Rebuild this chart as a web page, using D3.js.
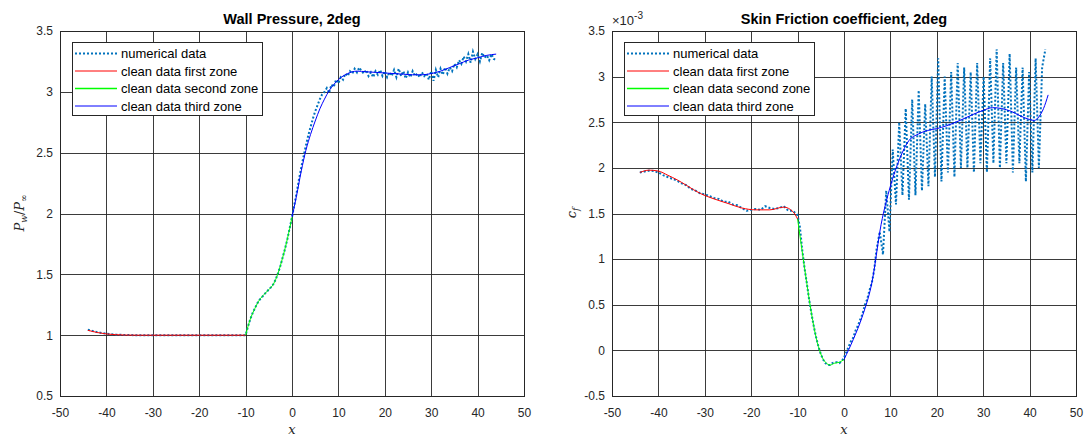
<!DOCTYPE html>
<html>
<head>
<meta charset="utf-8">
<script src="https://cdn.jsdelivr.net/npm/d3@7"></script>
<style>
  body { margin: 0; background: #fff; }
  svg { display: block; }
</style>
</head>
<body>
<div class="chart"></div>
<script>
// ---- data: wall pressure (Pw / Pinf) ----
const pressureNumX = [
  -44, -43, -42, -41, -40, -39, -38, -37, -36, -35, -34, -33, -32, -31, -30, -29, -28, -27,
  -26, -25, -24, -23, -22, -21, -20, -19, -18, -17, -16, -15, -14, -13, -12, -11, -10,
  -9.5, -9, -8.5, -8, -7.5, -7, -6.5, -6, -5.5, -5, -4.5, -4, -3.5, -3, -2.5, -2, -1.5, -1, -0.5, 0,
  0.5, 1, 1.5, 2, 2.5, 3, 3.5, 4, 4.5, 5, 5.5, 6, 6.5, 7, 7.5, 8, 8.5, 9, 9.5, 10,
  10.5, 11, 11.5, 12, 12.5, 13, 13.5, 14, 14.5, 15, 15.5, 16, 16.5, 17, 17.5, 18, 18.5, 19, 19.5, 20,
  20.5, 21, 21.5, 22, 22.5, 23, 23.5, 24, 24.5, 25, 25.5, 26, 26.5, 27, 27.5, 28, 28.5, 29, 29.5, 30,
  30.5, 31, 31.5, 32, 32.5, 33, 33.5, 34, 34.5, 35, 35.5, 36, 36.5, 37, 37.5, 38, 38.5, 39, 39.5, 40,
  40.5, 41, 41.5, 42, 42.5, 43, 43.5, 44
];
const pressureNumY = [
  1.045, 1.035, 1.025, 1.018, 1.012, 1.008, 1.005, 1.003, 1.002, 1.001, 1.0, 1.0, 0.999, 1.0, 1.0, 0.999, 1.0, 1.0,
  1.0, 0.999, 1.0, 1.0, 1.0, 0.999, 1.0, 1.0, 1.0, 1.0, 0.999, 1.0, 1.0, 1.0, 1.0, 1.0, 1.0,
  1.07, 1.13, 1.18, 1.22, 1.26, 1.29, 1.31, 1.335, 1.355, 1.375, 1.395, 1.42, 1.46, 1.51, 1.57, 1.64, 1.71, 1.79, 1.88, 1.97,
  2.07, 2.17, 2.28, 2.38, 2.47, 2.56, 2.64, 2.71, 2.78, 2.84, 2.89, 2.94, 2.98, 3.0, 3.03, 2.99, 3.06, 3.04, 3.1, 3.07,
  3.12, 3.1, 3.15, 3.13, 3.17, 3.15, 3.19, 3.16, 3.2, 3.17, 3.15, 3.18, 3.13, 3.16, 3.12, 3.17, 3.14, 3.18, 3.13, 3.17,
  3.12, 3.16, 3.13, 3.18, 3.12, 3.19, 3.13, 3.17, 3.11, 3.16, 3.12, 3.17, 3.13, 3.15, 3.12, 3.16, 3.13, 3.15, 3.1, 3.17,
  3.09, 3.18, 3.12, 3.19, 3.14, 3.2, 3.15, 3.2, 3.17, 3.23, 3.2, 3.26, 3.23, 3.29, 3.25, 3.31, 3.24, 3.33, 3.27, 3.31,
  3.25, 3.32, 3.28, 3.3, 3.26, 3.31, 3.27, 3.26
];
const pressureZone1X = [-44, -42, -40, -38, -36, -33, -30, -25, -20, -15, -10];
const pressureZone1Y = [1.04, 1.022, 1.01, 1.004, 1.001, 1.0, 1.0, 1.0, 1.0, 1.0, 1.0];
const pressureZone2X = [-10, -9, -8, -7, -6, -5, -4, -3, -2, -1, 0];
const pressureZone2Y = [1.0, 1.13, 1.22, 1.29, 1.335, 1.375, 1.42, 1.51, 1.64, 1.79, 1.97];
const pressureZone3X = [0, 1, 2, 3, 4, 5, 6, 7, 8, 9, 10, 11, 12, 13, 14, 16, 18, 20, 22, 24, 26, 28, 30, 32, 34, 36, 38, 40, 42, 44];
const pressureZone3Y = [1.97, 2.15, 2.35, 2.52, 2.65, 2.76, 2.86, 2.94, 3.01, 3.06, 3.1, 3.13, 3.15, 3.165, 3.17, 3.165, 3.16, 3.155,
  3.15, 3.145, 3.14, 3.14, 3.15, 3.17, 3.2, 3.23, 3.26, 3.28, 3.3, 3.31];

// ---- data: skin friction coefficient (values in units of 1e-3) ----
const frictionNumX = [
  -44, -43, -42, -41, -40, -39, -38, -37, -36, -35, -34, -33, -32, -31, -30, -29, -28, -27,
  -26, -25, -24, -23, -22, -21, -20, -19, -18, -17, -16, -15, -14, -13, -12, -11, -10,
  -9.5, -9, -8.5, -8, -7.5, -7, -6.5, -6, -5.5, -5, -4.5, -4, -3.5, -3, -2.5, -2, -1.5, -1, -0.5, 0,
  0.5, 1, 1.5, 2, 2.5, 3, 3.5, 4, 4.5, 5, 5.5, 6, 6.5,
  7.0, 7.7, 8.4, 9.1, 9.8, 10.5, 11.2, 11.9, 12.6, 13.3, 14.0, 14.7, 15.4, 16.1, 16.8, 17.5, 18.2, 18.9,
  19.6, 20.3, 21.0, 21.7, 22.4, 23.1, 23.8, 24.5, 25.2, 25.9, 26.6, 27.3, 28.0, 28.7, 29.4, 30.1, 30.8,
  31.5, 32.2, 32.9, 33.6, 34.3, 35.0, 35.7, 36.4, 37.1, 37.8, 38.5, 39.2, 39.9, 40.6, 41.3, 42.0, 42.7, 43.4, 44.0
];
const frictionNumY = [
  1.95, 1.96, 1.97, 1.965, 1.95, 1.92, 1.9, 1.88, 1.86, 1.83, 1.81, 1.77, 1.75, 1.72, 1.71, 1.69, 1.67, 1.66,
  1.63, 1.63, 1.6, 1.59, 1.56, 1.53, 1.54, 1.55, 1.54, 1.58, 1.56, 1.55, 1.56, 1.58, 1.53, 1.53, 1.48,
  1.35, 1.1, 0.9, 0.73, 0.55, 0.4, 0.26, 0.14, 0.04, -0.04, -0.1, -0.14, -0.16, -0.16, -0.14, -0.13, -0.13, -0.14, -0.12, -0.08,
  -0.02, 0.04, 0.1, 0.14, 0.22, 0.27, 0.34, 0.4, 0.5, 0.56, 0.66, 0.74, 0.88,
  1.1, 1.3, 1.05, 1.75, 1.3, 2.2, 1.6, 2.5, 1.7, 2.65, 1.65, 2.75, 1.7, 2.85, 1.75, 2.7, 1.8, 3.0,
  1.9, 3.2, 1.85, 3.0, 1.95, 3.05, 1.9, 3.15, 2.0, 3.1, 2.0, 3.05, 1.95, 3.15, 2.05, 3.0, 1.95,
  3.2, 2.05, 3.3, 2.0, 3.15, 2.05, 3.25, 1.95, 3.1, 2.05, 3.1, 1.85, 3.05, 1.95, 3.2, 2.0, 3.1, 3.3
];
const frictionZone1X = [-44, -42, -40, -38, -36, -34, -31, -28, -25, -22, -19, -16, -13, -11, -10];
const frictionZone1Y = [1.95, 1.975, 1.965, 1.92, 1.87, 1.81, 1.72, 1.66, 1.61, 1.56, 1.54, 1.54, 1.57, 1.52, 1.44];
const frictionZone2X = [-10, -9, -8, -7, -6, -5, -4, -3, -2, -1, 0];
const frictionZone2Y = [1.44, 1.08, 0.73, 0.4, 0.14, -0.04, -0.13, -0.16, -0.14, -0.13, -0.1];
const frictionZone3X = [0, 2, 4, 6, 8, 10, 12, 14, 16, 18, 20, 22, 25, 28, 30, 32, 34, 36, 38, 40, 41, 42, 43, 44];
const frictionZone3Y = [-0.1, 0.12, 0.38, 0.74, 1.38, 1.8, 2.1, 2.3, 2.37, 2.41, 2.43, 2.46, 2.52, 2.59, 2.63, 2.66, 2.65, 2.62, 2.57, 2.53, 2.52, 2.56, 2.65, 2.8];

const xTicks = [-50, -40, -30, -20, -10, 0, 10, 20, 30, 40, 50];
const pressureTicks = [0.5, 1, 1.5, 2, 2.5, 3, 3.5];
const frictionTicks = [-0.5, 0, 0.5, 1, 1.5, 2, 2.5, 3, 3.5];
const legendLabels = ['numerical data', 'clean data first zone', 'clean data second zone', 'clean data third zone'];

const colors = {
  numerical: '#0072BD',
  zone1: '#ff0000',
  zone2: '#00ff00',
  zone3: '#0000ff',
};

const chartWidth = 1089;
const chartHeight = 436;
const sans = 'Arial, "Liberation Sans", Helvetica, sans-serif';
const serif = '"DejaVu Serif", "Liberation Serif", serif';

const svg = d3.select('.chart')
  .append('svg')
  .attr('width', chartWidth)
  .attr('height', chartHeight)
  .style('font-family', sans);

const zip = (xs, ys) => xs.map((x, i) => ({ x, y: ys[i] }));

const drawPanel = (cfg) => {
  const xScale = d3.scaleLinear().domain([-50, 50]).range([cfg.left, cfg.right]);
  const yScale = d3.scaleLinear().domain(cfg.yDomain).range([cfg.bottom, cfg.top]);

  const g = svg.append('g');

  // grid
  g.append('g')
    .selectAll('line')
    .data(xTicks)
    .enter()
    .append('line')
    .attr('x1', d => Math.round(xScale(d)) + 0.5)
    .attr('x2', d => Math.round(xScale(d)) + 0.5)
    .attr('y1', cfg.top)
    .attr('y2', cfg.bottom)
    .attr('stroke', '#262626')
    .attr('stroke-opacity', 0.9);
  g.append('g')
    .selectAll('line')
    .data(cfg.yTicks)
    .enter()
    .append('line')
    .attr('x1', cfg.left)
    .attr('x2', cfg.right)
    .attr('y1', d => Math.round(yScale(d)) + 0.5)
    .attr('y2', d => Math.round(yScale(d)) + 0.5)
    .attr('stroke', '#262626')
    .attr('stroke-opacity', 0.9);

  // axes with labels (plain hyphen for negatives, like the original)
  const fmt = d => String(d);
  const xAxis = d3.axisBottom(xScale).tickValues(xTicks).tickSize(0).tickPadding(12).tickFormat(fmt);
  g.append('g')
    .attr('transform', `translate(0, ${cfg.bottom})`)
    .call(xAxis)
    .call(a => a.select('.domain').remove())
    .selectAll('text')
    .attr('font-size', '12px')
    .attr('font-family', sans)
    .attr('fill', '#262626');

  const yAxis = d3.axisLeft(yScale).tickValues(cfg.yTicks).tickSize(0).tickPadding(7).tickFormat(fmt);
  g.append('g')
    .attr('transform', `translate(${cfg.left}, 0)`)
    .call(yAxis)
    .call(a => a.select('.domain').remove())
    .selectAll('text')
    .attr('font-size', '12px')
    .attr('font-family', sans)
    .attr('fill', '#262626');

  // data lines
  const line = d3.line().x(d => xScale(d.x)).y(d => yScale(d.y));
  const smooth = d3.line().x(d => xScale(d.x)).y(d => yScale(d.y)).curve(d3.curveMonotoneX);

  g.append('path')
    .datum(zip(cfg.numX, cfg.numY))
    .attr('d', line)
    .attr('fill', 'none')
    .attr('stroke', colors.numerical)
    .attr('stroke-width', 2)
    .attr('stroke-dasharray', '2,2');

  cfg.zones.forEach((z, i) => {
    g.append('path')
      .datum(zip(z.x, z.y))
      .attr('d', smooth)
      .attr('fill', 'none')
      .attr('stroke', [colors.zone1, colors.zone2, colors.zone3][i])
      .attr('stroke-width', 1);
  });

  // box
  g.append('rect')
    .attr('x', cfg.left + 0.5)
    .attr('y', cfg.top + 0.5)
    .attr('width', cfg.right - cfg.left)
    .attr('height', cfg.bottom - cfg.top)
    .attr('fill', 'none')
    .attr('stroke', '#262626');

  // title
  g.append('text')
    .attr('x', (cfg.left + cfg.right) / 2)
    .attr('y', 24)
    .attr('text-anchor', 'middle')
    .attr('font-size', '14.5px')
    .attr('font-weight', 'bold')
    .attr('fill', '#000')
    .text(cfg.title);

  // x label
  g.append('text')
    .attr('x', (cfg.left + cfg.right) / 2)
    .attr('y', 434)
    .attr('text-anchor', 'middle')
    .attr('font-family', serif)
    .attr('font-style', 'italic')
    .attr('font-size', '13px')
    .attr('fill', '#262626')
    .text('x');

  // legend
  const lg = g.append('g')
    .attr('transform', `translate(${cfg.left + 12}, ${cfg.top + 11})`);
  lg.append('rect')
    .attr('x', 0.5)
    .attr('y', 0.5)
    .attr('width', 190)
    .attr('height', 73)
    .attr('fill', '#fff')
    .attr('stroke', '#262626');
  legendLabels.forEach((label, i) => {
    const ly = 11.5 + i * 17.5;
    lg.append('line')
      .attr('x1', 3)
      .attr('x2', 45)
      .attr('y1', ly)
      .attr('y2', ly)
      .attr('stroke', [colors.numerical, colors.zone1, colors.zone2, colors.zone3][i])
      .attr('stroke-width', i === 0 ? 2 : (i === 2 ? 1.5 : 1))
      .attr('stroke-dasharray', i === 0 ? '2,2' : null);
    lg.append('text')
      .attr('x', 49)
      .attr('y', ly + 4.5)
      .attr('font-size', '13px')
      .attr('fill', '#000')
      .text(label);
  });

  return { xScale, yScale, g };
};

drawPanel({
  left: 60, right: 524, top: 31, bottom: 396,
  yDomain: [0.5, 3.5],
  yTicks: pressureTicks,
  title: 'Wall Pressure, 2deg',
  numX: pressureNumX, numY: pressureNumY,
  zones: [
    { x: pressureZone1X, y: pressureZone1Y },
    { x: pressureZone2X, y: pressureZone2Y },
    { x: pressureZone3X, y: pressureZone3Y },
  ],
});

drawPanel({
  left: 612, right: 1076, top: 31, bottom: 396,
  yDomain: [-0.5, 3.5],
  yTicks: frictionTicks,
  title: 'Skin Friction coefficient, 2deg',
  numX: frictionNumX, numY: frictionNumY,
  zones: [
    { x: frictionZone1X, y: frictionZone1Y },
    { x: frictionZone2X, y: frictionZone2Y },
    { x: frictionZone3X, y: frictionZone3Y },
  ],
});

// y labels (LaTeX style)
const pLabel = svg.append('text')
  .attr('transform', 'translate(24, 213) rotate(-90)')
  .attr('text-anchor', 'middle')
  .attr('font-family', serif)
  .attr('font-style', 'italic')
  .attr('font-size', '13px')
  .attr('fill', '#262626');
pLabel.append('tspan').text('P');
pLabel.append('tspan').attr('font-size', '9px').attr('dy', 3).text('w');
pLabel.append('tspan').attr('dy', -3).attr('font-style', 'normal').text('/');
pLabel.append('tspan').text('P');
pLabel.append('tspan').attr('font-size', '9px').attr('dy', 3).attr('font-style', 'normal').text('∞');

const cLabel = svg.append('text')
  .attr('transform', 'translate(576, 213) rotate(-90)')
  .attr('text-anchor', 'middle')
  .attr('font-family', serif)
  .attr('font-style', 'italic')
  .attr('font-size', '13px')
  .attr('fill', '#262626');
cLabel.append('tspan').text('c');
cLabel.append('tspan').attr('font-size', '9px').attr('dy', 3).text('f');

// exponent label
const expLabel = svg.append('text')
  .attr('x', 612)
  .attr('y', 25)
  .attr('font-size', '13px')
  .attr('fill', '#262626');
expLabel.append('tspan').text('×10');
expLabel.append('tspan').attr('font-size', '10px').attr('dy', -6).text('-3');
</script>
</body>
</html>
